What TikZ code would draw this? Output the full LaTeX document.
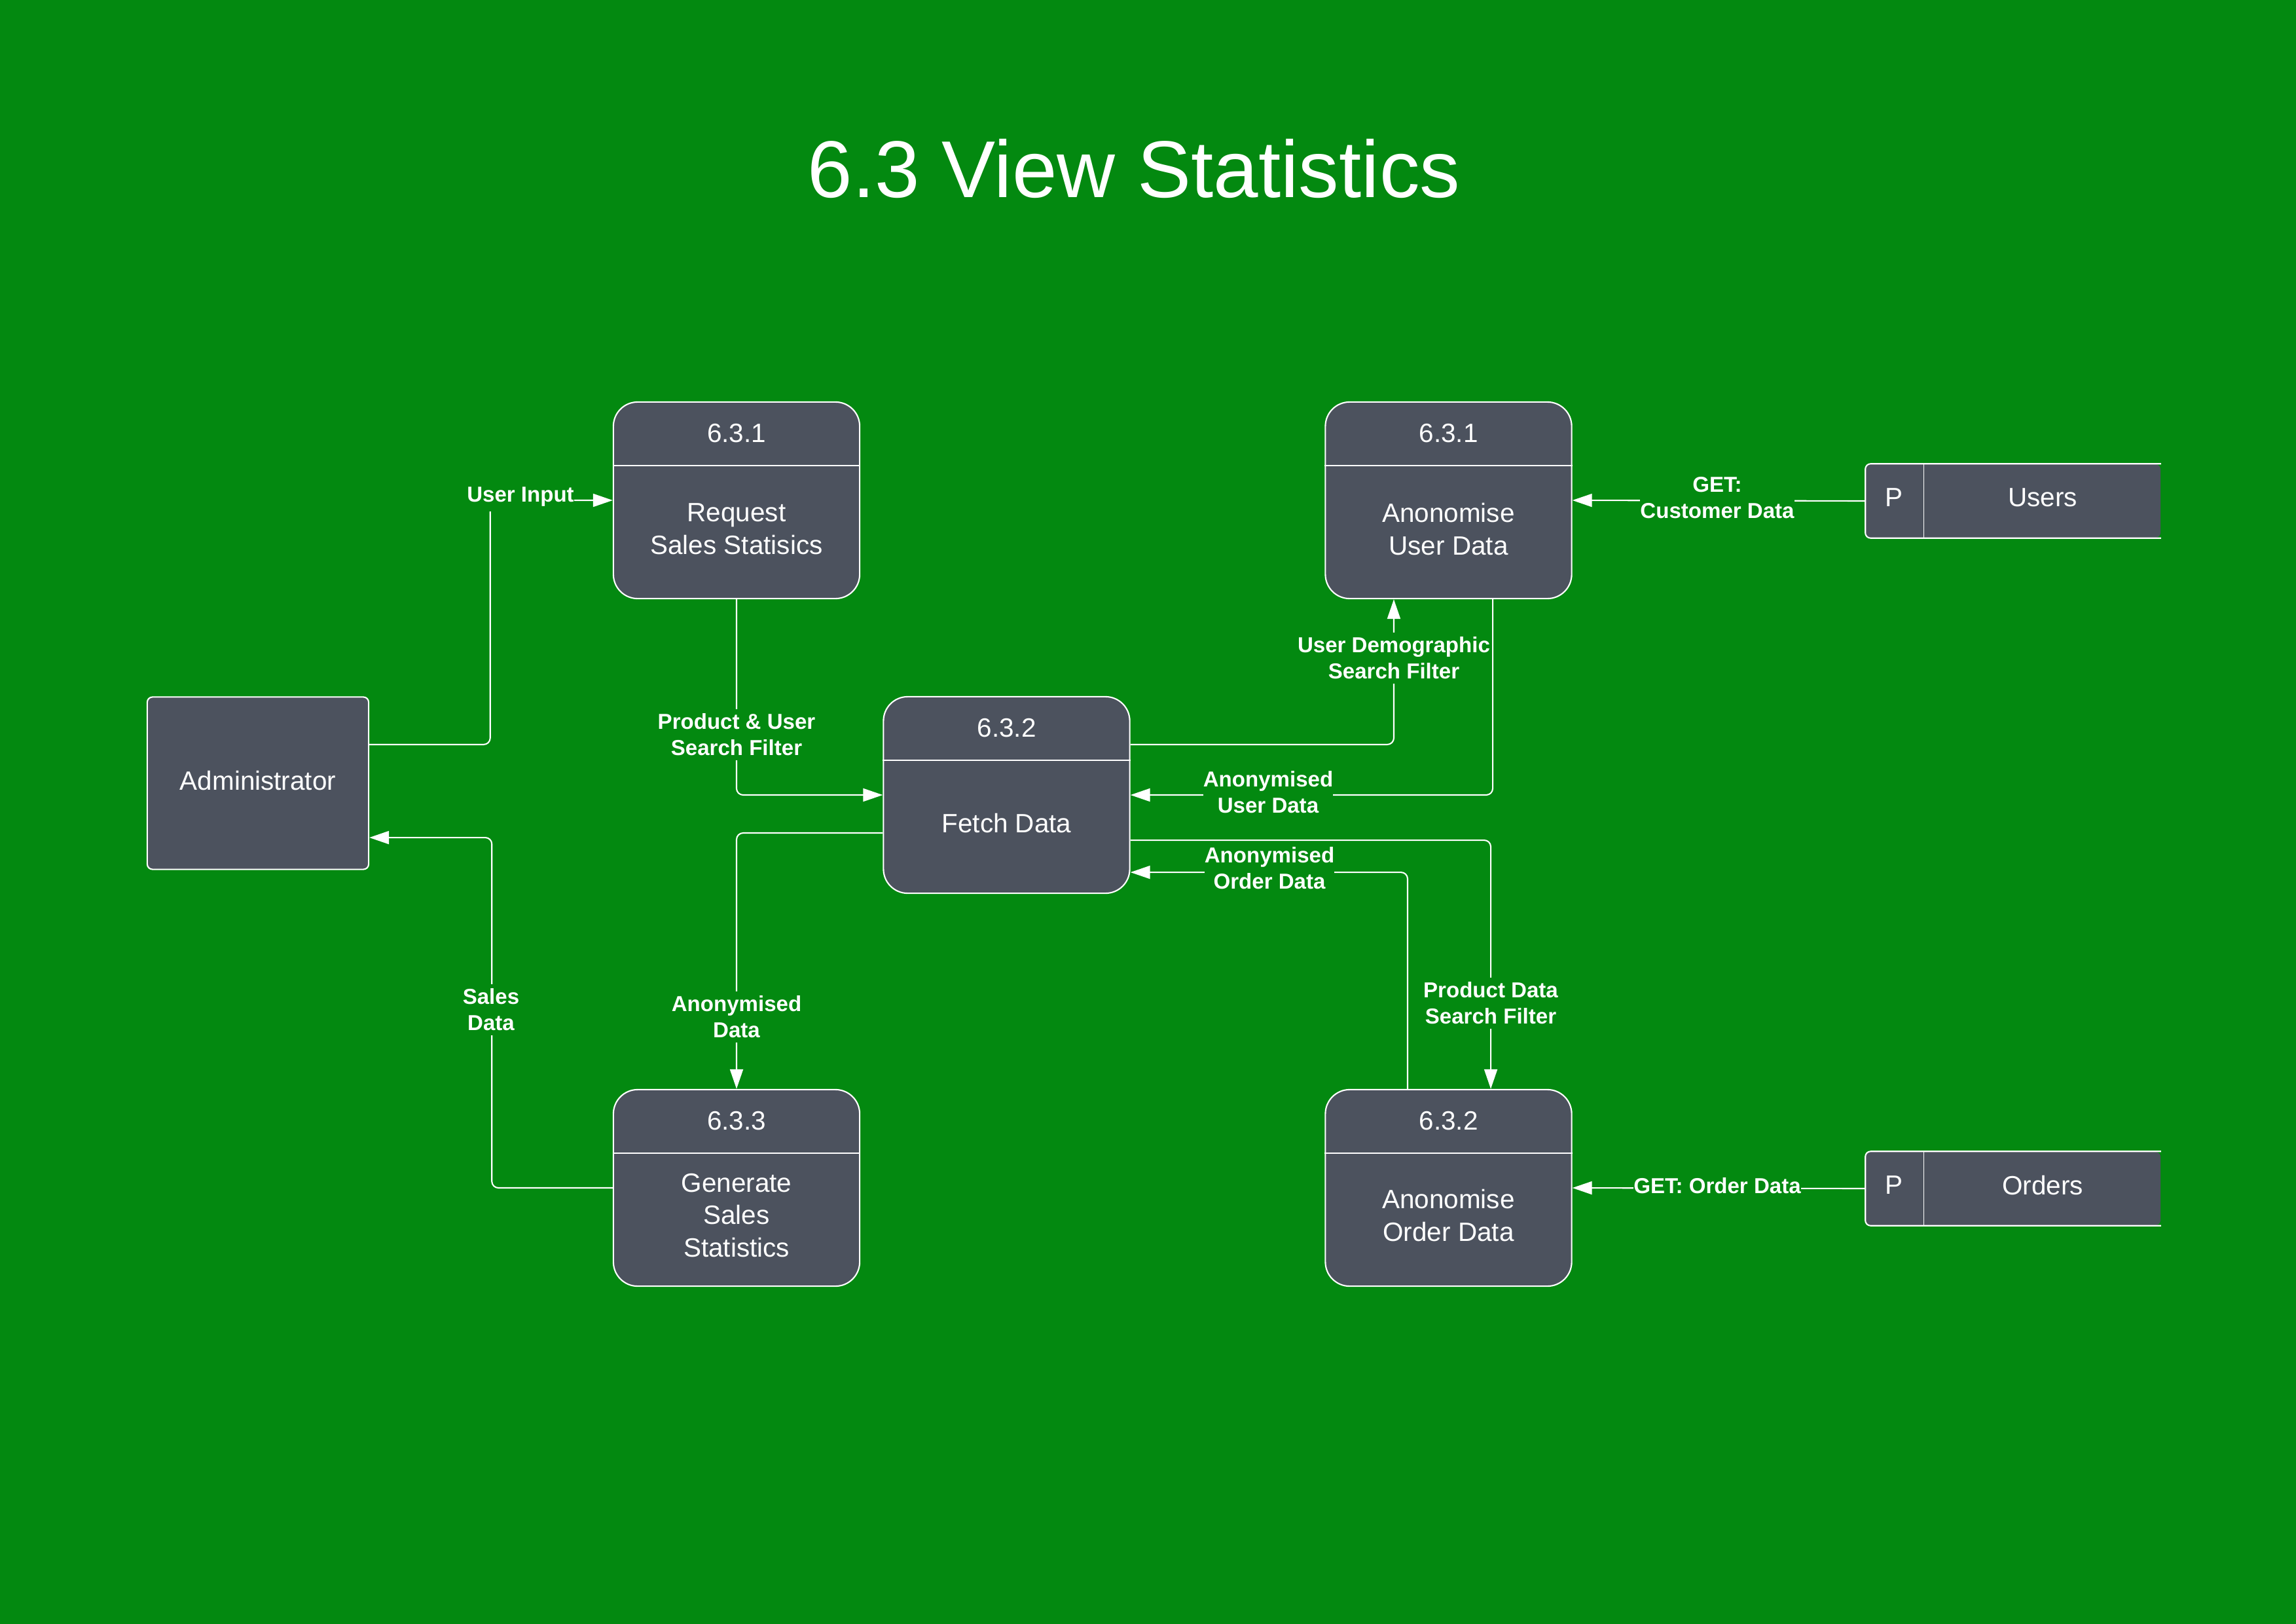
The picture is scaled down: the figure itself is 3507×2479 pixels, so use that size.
\documentclass[tikz,border=0pt]{standalone}
\usepackage{fontspec}
\setmainfont{Liberation Sans}
\usetikzlibrary{arrows.meta}
\definecolor{bggreen}{RGB}{3,137,16}
\definecolor{boxgray}{RGB}{76,82,94}
\newcommand\dfdboxfont{\fontsize{11.5}{14.2}\selectfont}
\newcommand\dfdlblfont{\fontsize{9.4}{11.4}\selectfont\bfseries}
\begin{document}
\begin{tikzpicture}[x=0.01cm,y=-0.01cm,
  proc/.style={draw=white, line width=0.6pt, fill=boxgray, rounded corners=3.7mm, minimum width=3.76cm, minimum height=3cm, inner sep=0pt},
  ent/.style={draw=white, line width=0.6pt, fill=boxgray, rounded corners=0.8mm, minimum width=3.38cm, minimum height=2.63cm, inner sep=0pt},
  storebox/.style={fill=boxgray, rounded corners=0.8mm, minimum width=4.5cm, minimum height=1.12cm, inner sep=0pt},
  txt/.style={text=white, font=\dfdboxfont, align=center, inner sep=0pt},
  lbl/.style={text=white, font=\dfdlblfont, align=center, fill=bggreen, inner xsep=0pt, inner ysep=2pt},
  flow/.style={draw=white, line width=0.6pt, rounded corners=1mm, -{Triangle[length=3mm,width=2mm]}},
  divider/.style={draw=white, line width=0.4pt},
  border/.style={draw=white, line width=0.6pt, rounded corners=0.8mm}
]
% background
\useasboundingbox (0,0) rectangle (3507,2479);
\fill[bggreen] (-20,-20) rectangle (3527,2499);

% title
\node[text=white, font=\fontsize{35}{42}\selectfont, inner sep=0pt] (title) at (1732,258) {6.3 View Statistics};

% external entity
\node[ent] (admin) at (394,1196) {};
\node[txt] (admint) at ([yshift=0.4mm]admin.center) {Administrator};

% processes
\node[proc] (p631) at (1125,764) {};
\draw[divider] ([yshift=-9.8mm]p631.north west) -- ([yshift=-9.8mm]p631.north east);
\node[txt] (p631n) at ([yshift=-4.9mm]p631.north) {6.3.1};
\node[txt] (p631t) at ([yshift=-4.4mm]p631.center) {Request\\Sales Statisics};

\node[proc] (fetch) at (1537.5,1214) {};
\draw[divider] ([yshift=-9.8mm]fetch.north west) -- ([yshift=-9.8mm]fetch.north east);
\node[txt] (fetchn) at ([yshift=-4.9mm]fetch.north) {6.3.2};
\node[txt] (fetcht) at ([yshift=-4.3mm]fetch.center) {Fetch Data};

\node[proc] (gen) at (1125,1814) {};
\draw[divider] ([yshift=-9.8mm]gen.north west) -- ([yshift=-9.8mm]gen.north east);
\node[txt] (genn) at ([yshift=-4.9mm]gen.north) {6.3.3};
\node[txt] (gent) at ([yshift=-4.2mm]gen.center) {Generate\\Sales\\Statistics};

\node[proc] (anonU) at (2212.5,764) {};
\draw[divider] ([yshift=-9.8mm]anonU.north west) -- ([yshift=-9.8mm]anonU.north east);
\node[txt] (anonUn) at ([yshift=-4.9mm]anonU.north) {6.3.1};
\node[txt] (anonUt) at ([yshift=-4.4mm]anonU.center) {Anonomise\\User Data};

\node[proc] (anonO) at (2212.5,1814) {};
\draw[divider] ([yshift=-9.8mm]anonO.north west) -- ([yshift=-9.8mm]anonO.north east);
\node[txt] (anonOn) at ([yshift=-4.9mm]anonO.north) {6.3.2};
\node[txt] (anonOt) at ([yshift=-4.2mm]anonO.center) {Anonomise\\Order Data};

% data stores
\node[storebox] (users) at (3075,765) {};
\draw[border] (users.north east) -- (users.north west) -- (users.south west) -- (users.south east);
\draw[divider] ([xshift=8.9mm]users.north west) -- ([xshift=8.9mm]users.south west);
\node[txt] (usersP) at ([xshift=4.4mm,yshift=0.5mm]users.west) {P};
\node[txt] (usersT) at ([xshift=4.5mm,yshift=0.5mm]users.center) {Users};

\node[storebox] (orders) at (3075,1815) {};
\draw[border] (orders.north east) -- (orders.north west) -- (orders.south west) -- (orders.south east);
\draw[divider] ([xshift=8.9mm]orders.north west) -- ([xshift=8.9mm]orders.south west);
\node[txt] (ordersP) at ([xshift=4.4mm,yshift=0.5mm]orders.west) {P};
\node[txt] (ordersT) at ([xshift=4.5mm,yshift=0.5mm]orders.center) {Orders};

% connectors
\draw[flow] ([yshift=5.9mm]admin.east) -| ([xshift=-18.7mm]p631.west) -- (p631.west);
\draw[flow] (p631.south) |- (fetch.west);
\draw[flow] ([yshift=-5.8mm]fetch.west) -| (gen.north);
\draw[flow] (gen.west) -| ([yshift=-8.3mm,xshift=18.7mm]admin.east) -- ([yshift=-8.3mm]admin.east);
\draw[flow] ([yshift=7.7mm]fetch.east) -| ([xshift=-8.35mm]anonU.south);
\draw[flow] ([yshift=-6.9mm]fetch.east) -| ([xshift=6.45mm]anonO.north);
\draw[flow] ([xshift=-6.25mm]anonO.north) |- ([yshift=-11.8mm]fetch.east);
\draw[flow] (users.west) -- (anonU.east);
\draw[flow] (orders.west) -- (anonO.east);

% labels
\node[lbl] (l1) at (795,759) {User Input};
\node[lbl] (l2) at (1125,1122) {Product \& User\\Search Filter};
\node[lbl] (l3) at (1125,1553) {Anonymised\\Data};
\node[lbl] (l4) at (750,1542) {Sales\\Data};
\node[lbl] (l5) at (2129,1005) {User Demographic\\Search Filter};
\node[lbl] (l7) at (1939,1326) {Anonymised\\Order Data};
\node[lbl] (l8) at (2277,1532) {Product Data\\Search Filter};
\node[lbl] (l9) at (2623,760) {GET:\\Customer Data};
\node[lbl] (l10) at (2623,1811) {GET: Order Data};

% connector passing beside the demographic label, then its own label
\draw[flow] ([xshift=6.75mm]anonU.south) |- (fetch.east);
\node[lbl] (l6) at (1937,1210) {Anonymised\\User Data};
\end{tikzpicture}
\end{document}
